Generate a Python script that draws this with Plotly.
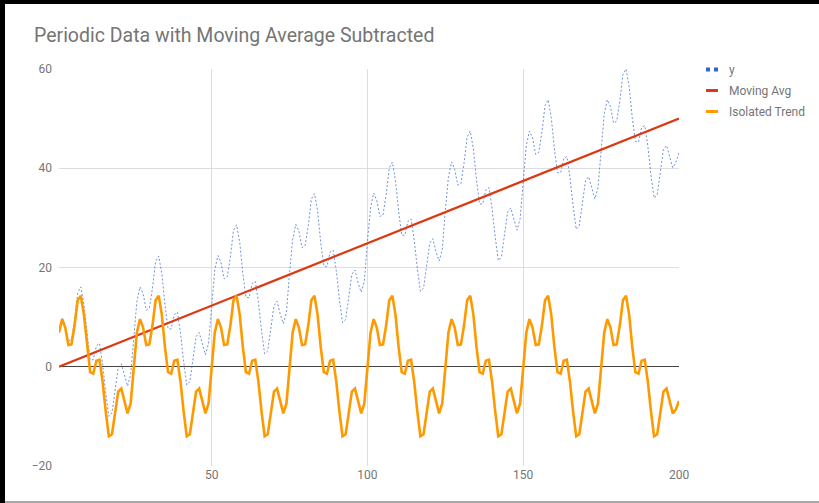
import plotly.graph_objects as go

# ---- data -------------------------------------------------------------
x_vals = list(range(1, 201))

y_vals = [
    6.9, 9.9, 8.4, 5.2, 5.5, 9.6, 14.9, 16.1, 12.5, 6.3, 1.4, 1.4, 4.2, 4.7, 0.5, -5.2, -10.0, -9.3, -4.4, -0.2, 0.6, -1.9, -3.9, -1.6, 6.3,
    13.2, 16.1, 14.7, 11.4, 11.8, 15.8, 21.2, 22.3, 18.8, 12.5, 7.7, 7.6, 10.5, 11.0, 6.8, 1.1, -3.7, -3.0, 1.9, 6.1, 6.9, 4.4, 2.4, 4.7, 12.6,
    19.5, 22.4, 21.0, 17.7, 18.1, 22.1, 27.5, 28.6, 25.1, 18.8, 14.0, 13.9, 16.8, 17.2, 13.1, 7.3, 2.6, 3.2, 8.2, 12.3, 13.2, 10.6, 8.7, 10.9, 18.9,
    25.7, 28.7, 27.3, 24.0, 24.4, 28.4, 33.8, 34.9, 31.4, 25.1, 20.3, 20.2, 23.1, 23.5, 19.4, 13.6, 8.9, 9.5, 14.5, 18.6, 19.5, 16.9, 15.0, 17.2, 25.2,
    32.0, 35.0, 33.5, 30.3, 30.6, 34.7, 40.0, 41.2, 37.6, 31.4, 26.5, 26.5, 29.3, 29.8, 25.6, 19.9, 15.2, 15.8, 20.8, 24.9, 25.8, 23.2, 21.3, 23.5, 31.5,
    38.3, 41.3, 39.8, 36.6, 36.9, 41.0, 46.3, 47.5, 43.9, 37.7, 32.8, 32.8, 35.6, 36.1, 31.9, 26.2, 21.4, 22.1, 27.0, 31.2, 32.0, 29.5, 27.5, 29.8, 37.7,
    44.6, 47.5, 46.1, 42.8, 43.2, 47.3, 52.6, 53.8, 50.2, 44.0, 39.1, 39.1, 41.9, 42.4, 38.2, 32.5, 27.7, 28.4, 33.3, 37.5, 38.3, 35.8, 33.8, 36.1, 44.0,
    50.9, 53.8, 52.4, 49.1, 49.5, 53.5, 58.9, 60.0, 56.5, 50.2, 45.4, 45.3, 48.2, 48.6, 44.5, 38.7, 34.0, 34.6, 39.6, 43.8, 44.6, 42.1, 40.1, 41.2, 43.1,
]

# straight moving-average line, given by its end points
ma_x = [1, 200]
ma_vals = [0.0, 50.0]

isolated_vals = [
    6.9, 9.6, 7.9, 4.4, 4.5, 8.3, 13.4, 14.3, 10.5, 4.0, -1.1, -1.4, 1.2, 1.4, -3.0, -9.0, -14.0, -13.6, -8.9, -5.0, -4.4, -7.2, -9.4, -7.4, 0.3,
    6.9, 9.6, 7.9, 4.4, 4.5, 8.3, 13.4, 14.3, 10.5, 4.0, -1.1, -1.4, 1.2, 1.4, -3.0, -9.0, -14.0, -13.6, -8.9, -5.0, -4.4, -7.2, -9.4, -7.4, 0.3,
    6.9, 9.6, 7.9, 4.4, 4.5, 8.3, 13.4, 14.3, 10.5, 4.0, -1.1, -1.4, 1.2, 1.4, -3.0, -9.0, -14.0, -13.6, -8.9, -5.0, -4.4, -7.2, -9.4, -7.4, 0.3,
    6.9, 9.6, 7.9, 4.4, 4.5, 8.3, 13.4, 14.3, 10.5, 4.0, -1.1, -1.4, 1.2, 1.4, -3.0, -9.0, -14.0, -13.6, -8.9, -5.0, -4.4, -7.2, -9.4, -7.4, 0.3,
    6.9, 9.6, 7.9, 4.4, 4.5, 8.3, 13.4, 14.3, 10.5, 4.0, -1.1, -1.4, 1.2, 1.4, -3.0, -9.0, -14.0, -13.6, -8.9, -5.0, -4.4, -7.2, -9.4, -7.4, 0.3,
    6.9, 9.6, 7.9, 4.4, 4.5, 8.3, 13.4, 14.3, 10.5, 4.0, -1.1, -1.4, 1.2, 1.4, -3.0, -9.0, -14.0, -13.6, -8.9, -5.0, -4.4, -7.2, -9.4, -7.4, 0.3,
    6.9, 9.6, 7.9, 4.4, 4.5, 8.3, 13.4, 14.3, 10.5, 4.0, -1.1, -1.4, 1.2, 1.4, -3.0, -9.0, -14.0, -13.6, -8.9, -5.0, -4.4, -7.2, -9.4, -7.4, 0.3,
    6.9, 9.6, 7.9, 4.4, 4.5, 8.3, 13.4, 14.3, 10.5, 4.0, -1.1, -1.4, 1.2, 1.4, -3.0, -9.0, -14.0, -13.6, -8.9, -5.0, -4.4, -7.2, -9.4, -8.6, -6.9,
]

series_names = ["y", "Moving Avg", "Isolated Trend"]
x_ticks = [50, 100, 150, 200]
y_ticks = [-20, 0, 20, 40, 60]

# ---- styling ----------------------------------------------------------
BLUE, RED, ORANGE = "#3366cc", "#dc3912", "#ff9900"
TEXT = "#757575"
FONT = "Roboto"

W, H = 819, 503
ML, MR, MT, MB = 59, 140, 69, 37
PW, PH = W - ML - MR, H - MT - MB


def px_x(px):
    return (px - ML) / PW


def px_y(py):
    return (H - MB - py) / PH


fig = go.Figure()
fig.add_trace(go.Scatter(x=x_vals, y=y_vals, mode="lines", name=series_names[0], opacity=0.7,
                         line=dict(color=BLUE, width=1, dash="2px,2px")))
fig.add_trace(go.Scatter(x=ma_x, y=ma_vals, mode="lines", name=series_names[1],
                         line=dict(color=RED, width=2.2)))
fig.add_trace(go.Scatter(x=x_vals, y=isolated_vals, mode="lines", name=series_names[2],
                         line=dict(color=ORANGE, width=2.6)))

shapes = []
# page frame
shapes.append(dict(type="rect", xref="paper", yref="paper", x0=px_x(0), x1=px_x(5),
                   y0=px_y(H), y1=px_y(0), fillcolor="#000000", line=dict(width=0), layer="above"))
shapes.append(dict(type="rect", xref="paper", yref="paper", x0=px_x(0), x1=px_x(W),
                   y0=px_y(4), y1=px_y(0), fillcolor="#000000", line=dict(width=0), layer="above"))
shapes.append(dict(type="rect", xref="paper", yref="paper", x0=px_x(5), x1=px_x(W),
                   y0=px_y(H), y1=px_y(501), fillcolor="#a8a8a8", line=dict(width=0), layer="above"))

# legend swatches
leg_x0, leg_x1, leg_text_x = 706, 718, 727
leg_rows = [69.5, 90.5, 111.5]
for sx in (706, 714):
    shapes.append(dict(type="rect", xref="paper", yref="paper", x0=px_x(sx), x1=px_x(sx + 4),
                       y0=px_y(leg_rows[0] + 2), y1=px_y(leg_rows[0] - 2),
                       fillcolor=BLUE, line=dict(width=0)))
for row, col in zip(leg_rows[1:], (RED, ORANGE)):
    shapes.append(dict(type="rect", xref="paper", yref="paper", x0=px_x(leg_x0), x1=px_x(leg_x1),
                       y0=px_y(row + 1.5), y1=px_y(row - 1.5),
                       fillcolor=col, line=dict(width=0)))

annotations = []
for row, name in zip(leg_rows, series_names):
    annotations.append(dict(text=name, xref="paper", yref="paper", x=px_x(leg_text_x), y=px_y(row),
                            xanchor="left", yanchor="middle", showarrow=False,
                            font=dict(family=FONT, size=12, color=TEXT)))

fig.update_layout(
    width=W, height=H,
    margin=dict(l=ML, r=MR, t=MT, b=MB, pad=0),
    paper_bgcolor="white", plot_bgcolor="white",
    showlegend=False,
    title=dict(text="Periodic Data with Moving Average Subtracted", xref="container", yref="container",
               x=34 / W, xanchor="left", y=1 - 35 / H, yanchor="middle",
               font=dict(family=FONT, size=19.5, color=TEXT)),
    shapes=shapes,
    annotations=annotations,
    font=dict(family=FONT, size=12, color=TEXT),
)
fig.update_xaxes(range=[1, 200], tickvals=x_ticks, showgrid=True, gridcolor="#dddddd", gridwidth=1,
                 zeroline=False, showline=False, ticks="", tickfont=dict(family=FONT, size=12, color=TEXT))
fig.update_yaxes(range=[-20, 60], tickvals=y_ticks, showgrid=True, gridcolor="#dddddd", gridwidth=1,
                 zeroline=True, zerolinecolor="#444444", zerolinewidth=1.2, showline=False, ticks="",
                 ticklabelstandoff=6, tickfont=dict(family=FONT, size=12, color=TEXT))

fig.write_html("out.html")
